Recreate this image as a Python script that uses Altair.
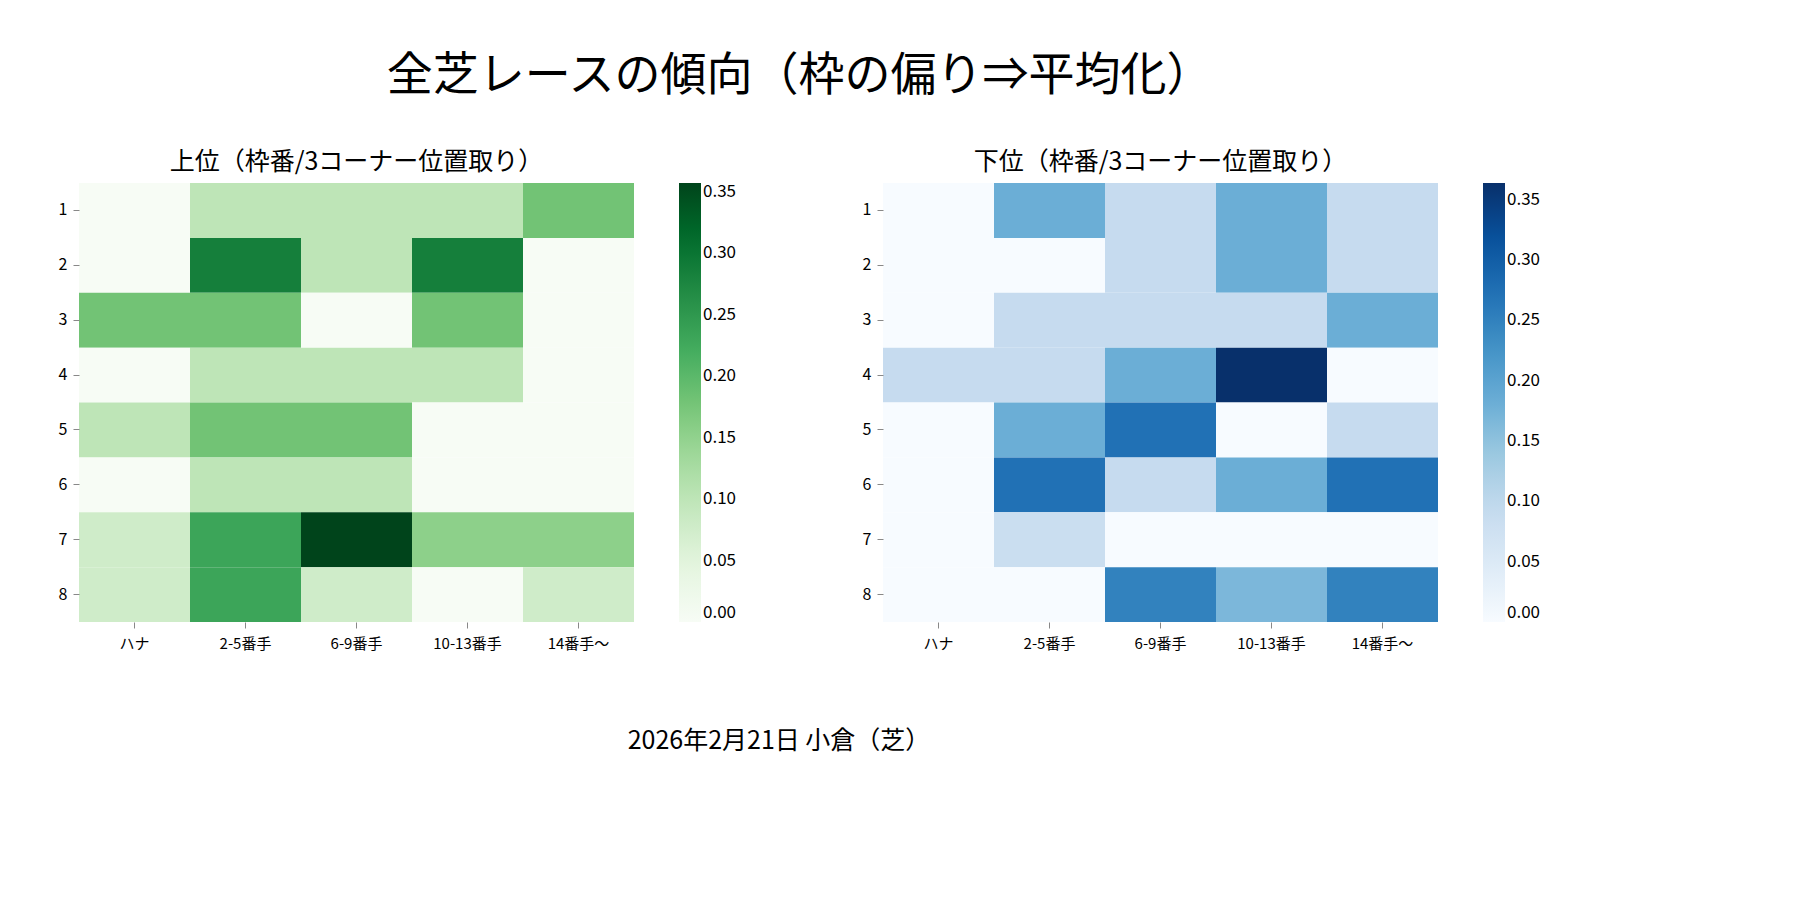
import altair as alt
import pandas as pd

FONT = "Noto Sans CJK JP"

frames = ["1", "2", "3", "4", "5", "6", "7", "8"]
positions = ["ハナ", "2-5番手", "6-9番手", "10-13番手", "14番手〜"]

# 上位 (rows = 枠番 1..8)
upper = [
    [0.0, 0.10, 0.10, 0.10, 0.18],
    [0.0, 0.286, 0.10, 0.286, 0.0],
    [0.18, 0.18, 0.0, 0.18, 0.0],
    [0.0, 0.10, 0.10, 0.10, 0.0],
    [0.10, 0.18, 0.18, 0.0, 0.0],
    [0.0, 0.10, 0.10, 0.0, 0.0],
    [0.077, 0.231, 0.357, 0.154, 0.154],
    [0.077, 0.231, 0.077, 0.0, 0.077],
]
# 下位
lower = [
    [0.0, 0.182, 0.091, 0.182, 0.091],
    [0.0, 0.0, 0.091, 0.182, 0.091],
    [0.0, 0.091, 0.091, 0.091, 0.182],
    [0.091, 0.091, 0.182, 0.364, 0.0],
    [0.0, 0.182, 0.273, 0.0, 0.091],
    [0.0, 0.273, 0.091, 0.182, 0.273],
    [0.0, 0.083, 0.0, 0.0, 0.0],
    [0.0, 0.0, 0.25, 0.167, 0.25],
]

GREENS = ["#f7fcf5", "#e5f5e0", "#c7e9c0", "#a1d99b", "#74c476",
          "#41ab5d", "#238b45", "#006d2c", "#00441b"]
BLUES = ["#f7fbff", "#deebf7", "#c6dbef", "#9ecae1", "#6baed6",
         "#4292c6", "#2171b5", "#08519c", "#08306b"]


def to_df(mat):
    rows = []
    for i, f in enumerate(frames):
        for j, p in enumerate(positions):
            rows.append({"frame": f, "pos": p, "value": mat[i][j]})
    return pd.DataFrame(rows)


def heatmap(mat, colors, title):
    vmax = max(max(r) for r in mat)
    n = len(colors)
    dom = [vmax * k / (n - 1) for k in range(n)]
    return alt.Chart(to_df(mat)).mark_rect().encode(
        x=alt.X("pos:N", sort=positions, title=None,
                axis=alt.Axis(labelAngle=0, labelFontSize=15, labelPadding=8,
                              domain=False, ticks=True, tickSize=6, labelFont=FONT)),
        y=alt.Y("frame:N", sort=frames, title=None,
                axis=alt.Axis(labelFontSize=16, labelPadding=6, domain=False,
                              ticks=True, tickSize=6, labelFont=FONT)),
        color=alt.Color("value:Q",
                        scale=alt.Scale(domain=dom, range=colors, interpolate="rgb"),
                        legend=alt.Legend(title=None, gradientLength=439,
                                          gradientThickness=22, labelFontSize=17,
                                          labelFont=FONT, format=".2f",
                                          values=[0, 0.05, 0.1, 0.15, 0.2, 0.25, 0.3, 0.35],
                                          offset=45)),
    ).properties(
        width=555, height=439,
        title=alt.TitleParams(title, fontSize=25, font=FONT, fontWeight="normal",
                              offset=8),
    )


left = heatmap(upper, GREENS, "上位（枠番/3コーナー位置取り）")
right = heatmap(lower, BLUES, "下位（枠番/3コーナー位置取り）")

panels = alt.hconcat(left, right, spacing=125).resolve_scale(color="independent")

footer = alt.Chart(pd.DataFrame({"t": ["2026年2月21日 小倉（芝）"]})).mark_text(
    font=FONT, fontSize=25, color="black"
).encode(text="t:N", x=alt.value(700), y=alt.value(50)).properties(width=1400, height=70)

chart = alt.vconcat(panels, footer, spacing=40).properties(
    title=alt.TitleParams("全芝レースの傾向（枠の偏り⇒平均化）", fontSize=46, font=FONT,
                          fontWeight="normal", anchor="middle", offset=50),
    padding={"top": 45, "left": 50, "right": 10, "bottom": 10},
).configure_view(stroke=None)

chart.save("out.html", embed_options={"renderer": "svg", "actions": False})
